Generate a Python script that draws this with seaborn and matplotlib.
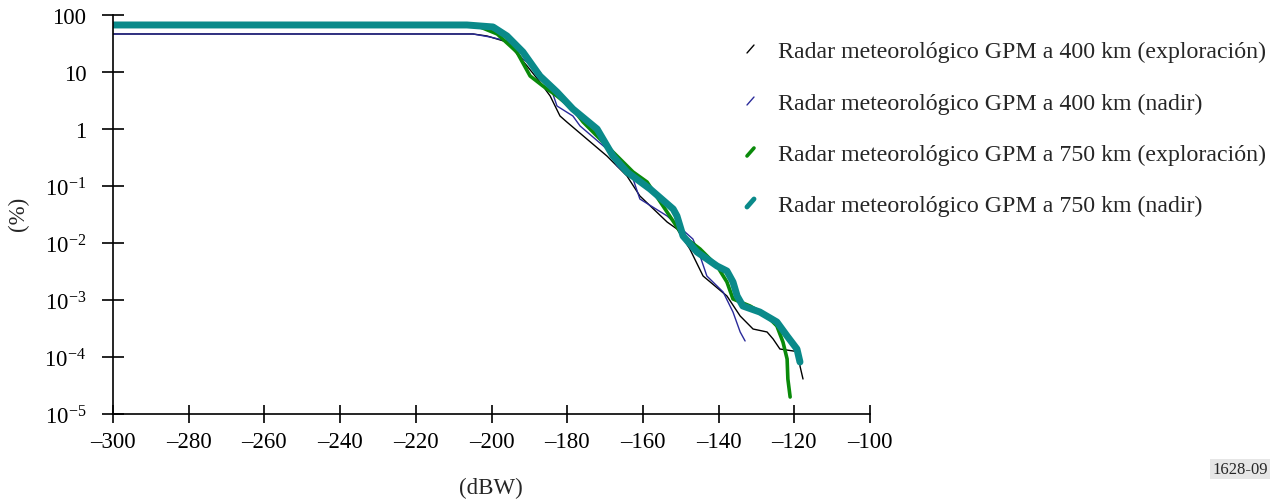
import numpy as np
import pandas as pd
import matplotlib
matplotlib.use("Agg")
import matplotlib.pyplot as plt
import seaborn as sns
from matplotlib.lines import Line2D

# ============================
# Data (x in dBW, y as log10 of %)
# ============================
x_400_scan = [-300, -204.9, -201.2, -195.9, -190.6, -187.2, -184.5, -181.9, -180.1, -169.5,
              -164.2, -160.8, -153.6, -151.0, -147.6, -144.1, -137.8, -134.3, -130.9,
              -127.2, -125.6, -123.8, -118.5, -118.5, -117.7]
y_400_scan = [1.667, 1.667, 1.632, 1.526, 1.105, 0.825, 0.579, 0.228, 0.123, -0.474,
              -0.825, -1.175, -1.632, -1.754, -2.105, -2.579, -2.930, -3.281, -3.509,
              -3.561, -3.684, -3.860, -3.912, -4.158, -4.386]

x_400_nadir = [-300, -204.9, -200.4, -195.9, -191.7, -187.2, -184.5, -182.7, -178.5, -176.6,
               -169.5, -166.8, -162.6, -160.8, -153.6, -146.8, -144.9, -143.1, -138.8,
               -136.2, -134.3, -133.0]
y_400_nadir = [1.667, 1.667, 1.614, 1.544, 1.228, 1.0, 0.754, 0.404, 0.228, 0.053,
               -0.351, -0.649, -0.877, -1.228, -1.526, -1.930, -2.228, -2.579, -2.860,
               -3.211, -3.561, -3.719]

x_750_scan = [-300, -204.9, -203.0, -198.5, -193.3, -189.8, -186.4, -182.7, -178.5, -175.8,
              -169.5, -162.6, -158.9, -149.4, -144.9, -140.4, -137.8, -136.2, -131.7,
              -127.2, -124.6, -123.0, -121.9, -121.7, -121.1]
y_750_scan = [1.825, 1.825, 1.79, 1.667, 1.351, 0.930, 0.754, 0.579, 0.351, 0.123,
              -0.298, -0.754, -0.930, -1.877, -2.105, -2.404, -2.684, -2.982, -3.105,
              -3.281, -3.456, -3.737, -4.035, -4.386, -4.702]

x_750_nadir = [-300, -206.5, -199.6, -195.9, -191.7, -187.2, -182.7, -178.5, -172.1, -167.9,
               -164.2, -158.1, -152.0, -151.0, -149.4, -145.7, -140.4, -137.8, -136.2,
               -135.1, -133.6, -129.1, -124.6, -121.9, -119.3, -118.5]
y_750_nadir = [1.825, 1.825, 1.79, 1.632, 1.351, 0.930, 0.649, 0.351, 0.0, -0.474,
               -0.754, -1.053, -1.404, -1.526, -1.877, -2.158, -2.404, -2.491, -2.684,
               -2.930, -3.105, -3.211, -3.386, -3.632, -3.860, -4.088]

labels = ["Radar meteorológico GPM a 400 km (exploración)",
          "Radar meteorológico GPM a 400 km (nadir)",
          "Radar meteorológico GPM a 750 km (exploración)",
          "Radar meteorológico GPM a 750 km (nadir)"]
colors = ["#000000", "#2a2a9a", "#0a8a0a", "#0a8a8a"]
widths = [1.0, 1.0, 2.6, 5.0]

x_ticks = [-300, -280, -260, -240, -220, -200, -180, -160, -140, -120, -100]
x_tick_labels = ["–300", "–280", "–260", "–240", "–220", "–200", "–180", "–160", "–140", "–120", "–100"]
y_ticks = [100, 10, 1, 1e-1, 1e-2, 1e-3, 1e-4, 1e-5]
y_tick_labels = ["100", "10", "1", r"$10^{-1}$", r"$10^{-2}$", r"$10^{-3}$", r"$10^{-4}$", r"$10^{-5}$"]

# ============================
# Style
# ============================
sns.set_style("ticks")
plt.rcParams["font.family"] = ["Liberation Serif", "DejaVu Serif"]
plt.rcParams["mathtext.fontset"] = "custom"
plt.rcParams["mathtext.rm"] = "Liberation Serif"
plt.rcParams["mathtext.it"] = "Liberation Serif:italic"
plt.rcParams["axes.unicode_minus"] = False

fig = plt.figure(figsize=(12.82, 5.02), dpi=100)
ax = fig.add_axes([113 / 1282, 1 - 415 / 502, (870 - 113) / 1282, (415 - 16) / 502])

series = [(x_400_scan, y_400_scan), (x_400_nadir, y_400_nadir),
          (x_750_scan, y_750_scan), (x_750_nadir, y_750_nadir)]
for (xs, ys), lab, c, w in zip(series, labels, colors, widths):
    df = pd.DataFrame({"dBW": xs, "pct": 10 ** np.array(ys)})
    sns.lineplot(data=df, x="dBW", y="pct", ax=ax, color=c, linewidth=w,
                 estimator=None, sort=False, legend=False)

ax.set_yscale("log")
ax.set_xlim(-300, -100)
ax.set_ylim(1e-5, 100)
ax.set_xticks(x_ticks)
ax.set_xticklabels(x_tick_labels)
ax.set_yticks(y_ticks)
ax.set_yticklabels(y_tick_labels)
ax.minorticks_off()
ax.tick_params(axis="x", direction="inout", length=12.5, width=1.2, labelsize=16.5, pad=6, colors="black")
ax.tick_params(axis="y", direction="inout", length=16.5, width=1.2, labelsize=16.5, pad=11, colors="black")
for s in ["top", "right"]:
    ax.spines[s].set_visible(False)
for s in ["left", "bottom"]:
    ax.spines[s].set_linewidth(1.2)
    ax.spines[s].set_color("black")
ax.set_xlabel("")
ax.set_ylabel("")

fig.text(491 / 1282, 1 - 488 / 502, "(dBW)", ha="center", va="center", fontsize=16.5)
fig.text(18 / 1282, 1 - 214 / 502, "(%)", ha="center", va="center", rotation=90, fontsize=16.5)
fig.text(1240 / 1282, 1 - 470 / 502, "1628-09", ha="center", va="center", fontsize=12,
         bbox=dict(facecolor="#e6e6e6", edgecolor="none", pad=1.5))

# Legend drawn by hand: short slanted strokes followed by text
leg_y = [52, 104, 155, 206]
for yy, lab, c, w in zip(leg_y, labels, colors, widths):
    fig.add_artist(Line2D([747 / 1282, 754 / 1282], [1 - (yy + 2) / 502, 1 - (yy - 6) / 502],
                          color=c, linewidth=min(w, 3.5), transform=fig.transFigure))
    fig.text(778 / 1282, 1 - yy / 502, lab, ha="left", va="center", fontsize=17.2)

plt.savefig("out.png", dpi=100)
